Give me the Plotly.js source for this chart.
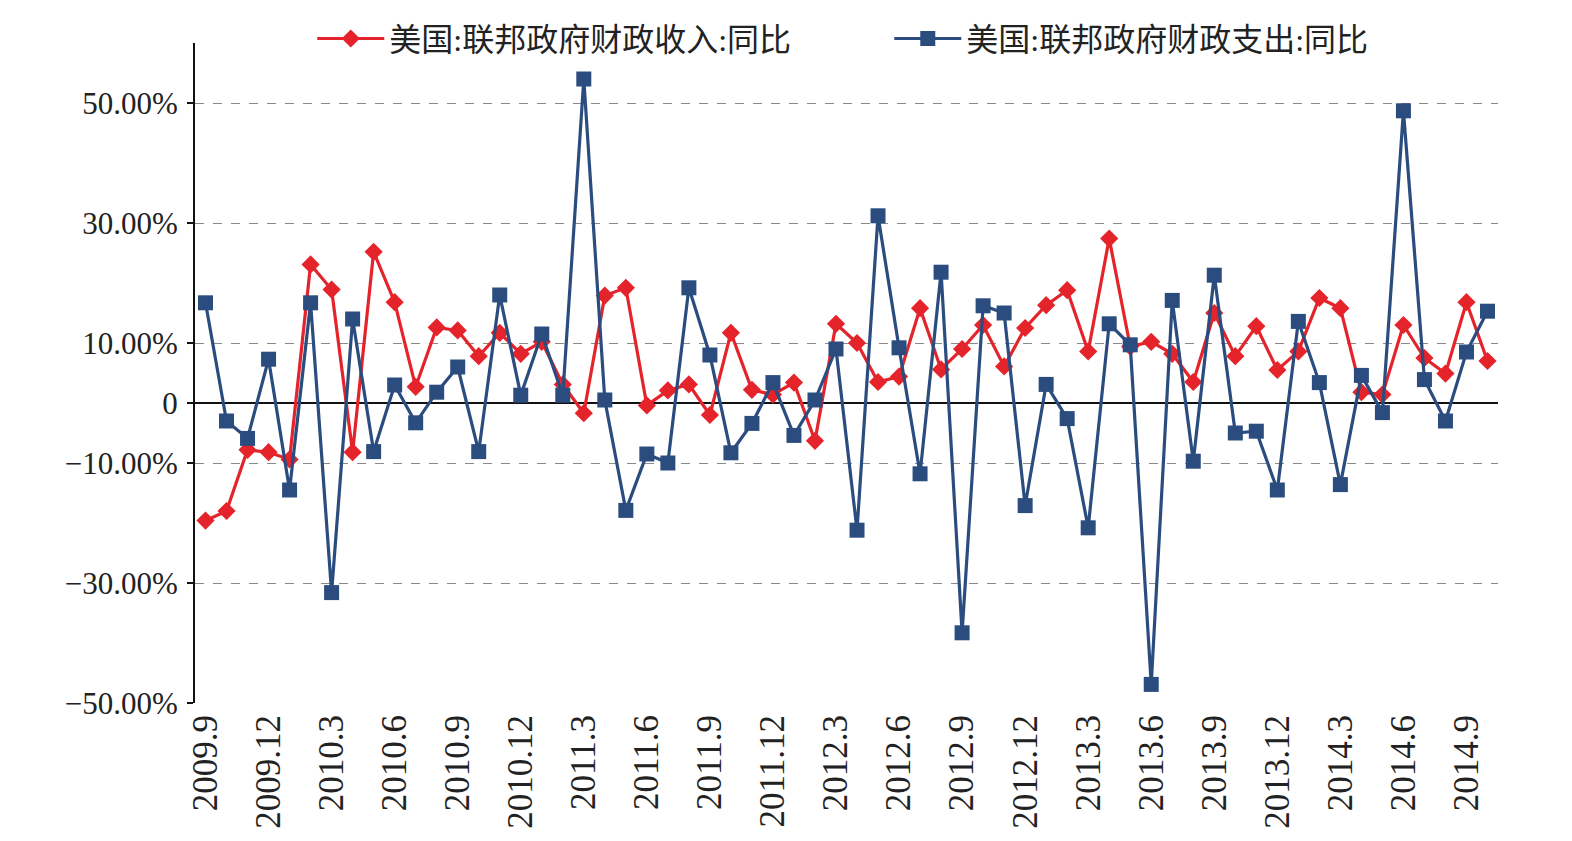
<!DOCTYPE html>
<html>
<head>
<meta charset="utf-8">
<script src="https://cdn.plot.ly/plotly-3.0.1.min.js"></script>
<style>html,body{margin:0;padding:0;background:#fff;}#chart{width:1572px;height:841px;}</style>
</head>
<body>
<div id="chart"></div>
<script>
// Months (categories)
const months = [
  "2009.9","2009.10","2009.11","2009.12",
  "2010.1","2010.2","2010.3","2010.4","2010.5","2010.6","2010.7","2010.8","2010.9","2010.10","2010.11","2010.12",
  "2011.1","2011.2","2011.3","2011.4","2011.5","2011.6","2011.7","2011.8","2011.9","2011.10","2011.11","2011.12",
  "2012.1","2012.2","2012.3","2012.4","2012.5","2012.6","2012.7","2012.8","2012.9","2012.10","2012.11","2012.12",
  "2013.1","2013.2","2013.3","2013.4","2013.5","2013.6","2013.7","2013.8","2013.9","2013.10","2013.11","2013.12",
  "2014.1","2014.2","2014.3","2014.4","2014.5","2014.6","2014.7","2014.8","2014.9","2014.10"
];

// 美国:联邦政府财政收入:同比 (%)
const revenueYoY = [
  -19.6, -18.0, -7.8, -8.2,
  -9.4, 23.1, 18.9, -8.2, 25.2, 16.8, 2.7, 12.6, 12.1, 7.8, 11.7, 8.2,
  10.2, 3.1, -1.7, 17.9, 19.2, -0.4, 2.1, 3.1, -2.0, 11.7, 2.2, 1.4,
  3.4, -6.3, 13.2, 10.0, 3.5, 4.4, 15.8, 5.6, 9.0, 13.0, 6.1, 12.5,
  16.3, 18.8, 8.6, 27.4, 9.4, 10.2, 8.2, 3.5, 15.0, 7.8, 12.8, 5.5,
  8.6, 17.5, 15.8, 1.8, 1.4, 13.0, 7.5, 4.9, 16.8, 7.0
];

// 美国:联邦政府财政支出:同比 (%)
const spendingYoY = [
  16.7, -3.0, -5.9, 7.3,
  -14.5, 16.7, -31.6, 14.0, -8.1, 3.0, -3.3, 1.8, 6.0, -8.1, 18.0, 1.3,
  11.5, 1.3, 54.0, 0.5, -17.9, -8.5, -10.0, 19.2, 8.0, -8.3, -3.4, 3.4,
  -5.4, 0.5, 9.0, -21.2, 31.2, 9.2, -11.8, 21.8, -38.3, 16.2, 15.0, -17.1,
  3.1, -2.6, -20.8, 13.2, 9.7, -46.9, 17.1, -9.7, 21.3, -5.0, -4.7, -14.5,
  13.6, 3.4, -13.6, 4.6, -1.6, 48.7, 3.9, -3.0, 8.5, 15.3
];

// X tick labels (every 3 months)
const xTickLabels = [
  "2009.9","2009.12","2010.3","2010.6","2010.9","2010.12","2011.3","2011.6","2011.9","2011.12",
  "2012.3","2012.6","2012.9","2012.12","2013.3","2013.6","2013.9","2013.12","2014.3","2014.6","2014.9"
];

// Y ticks
const yTickVals = [-50, -30, -10, 0, 10, 30, 50];
const yTickText = ["\u221250.00%", "\u221230.00%", "\u221210.00%", "0", "10.00%", "30.00%", "50.00%"];

const serif = "Liberation Serif, 'Times New Roman', 'Noto Sans CJK SC', serif";
const nameRev = "美国:联邦政府财政收入:同比";
const nameSpd = "美国:联邦政府财政支出:同比";

const RED = "#e5232b";
const BLUE = "#2b4c7e";

const n = months.length;
const boundaryTicks = [];
for (let i = 3; i < n; i += 3) boundaryTicks.push(i - 0.5);

const traces = [
  {
    x: months, y: revenueYoY, name: nameRev, type: "scatter", mode: "lines+markers",
    line: {color: RED, width: 3.2},
    marker: {symbol: "diamond", size: 14, color: RED}
  },
  {
    x: months, y: spendingYoY, name: nameSpd, type: "scatter", mode: "lines+markers",
    line: {color: BLUE, width: 3.2},
    marker: {symbol: "square", size: 15, color: BLUE}
  }
];

const layout = {
  width: 1572, height: 841,
  margin: {l: 195, r: 74, t: 42, b: 138},
  paper_bgcolor: "#fff", plot_bgcolor: "#fff",
  font: {family: serif, color: "#222", size: 30},
  showlegend: true,
  legend: {
    orientation: "h", x: 0.09, xanchor: "left", y: 1.005, yanchor: "middle",
    font: {family: serif, size: 32, color: "#222"},
    itemwidth: 67,
    entrywidth: 495, entrywidthmode: "pixels",
    bgcolor: "rgba(0,0,0,0)"
  },
  xaxis: {
    type: "category", range: [-0.5, n - 0.5],
    tickmode: "array", tickvals: xTickLabels, ticktext: xTickLabels,
    tickangle: -90, tickfont: {family: serif, size: 35, color: "#222"},
    showline: false, showgrid: false, zeroline: false, ticks: "",
    ticklabelstandoff: 4
  },
  xaxis2: {
    overlaying: "x", anchor: "free", position: 50 / 110, side: "bottom",
    type: "linear", range: [-0.5, n - 0.5],
    showline: true, linecolor: "#111", linewidth: 2,
    ticks: "inside", ticklen: 6, tickwidth: 2, tickcolor: "#111",
    tickmode: "array", tickvals: boundaryTicks, showticklabels: false,
    showgrid: false, zeroline: false
  },
  yaxis: {
    range: [-50, 60],
    tickmode: "array", tickvals: yTickVals, ticktext: yTickText,
    tickfont: {family: serif, size: 31, color: "#222"},
    showline: true, linecolor: "#111", linewidth: 2,
    ticks: "outside", ticklen: 6, tickwidth: 2, tickcolor: "#111",
    ticklabelstandoff: 3,
    showgrid: true, gridcolor: "#8a8a8a", gridwidth: 1, griddash: "9px,9px",
    zeroline: true, zerolinecolor: "#111", zerolinewidth: 2
  }
};

Plotly.newPlot("chart", traces, layout, {displayModeBar: false, staticPlot: true});
</script>
</body>
</html>
